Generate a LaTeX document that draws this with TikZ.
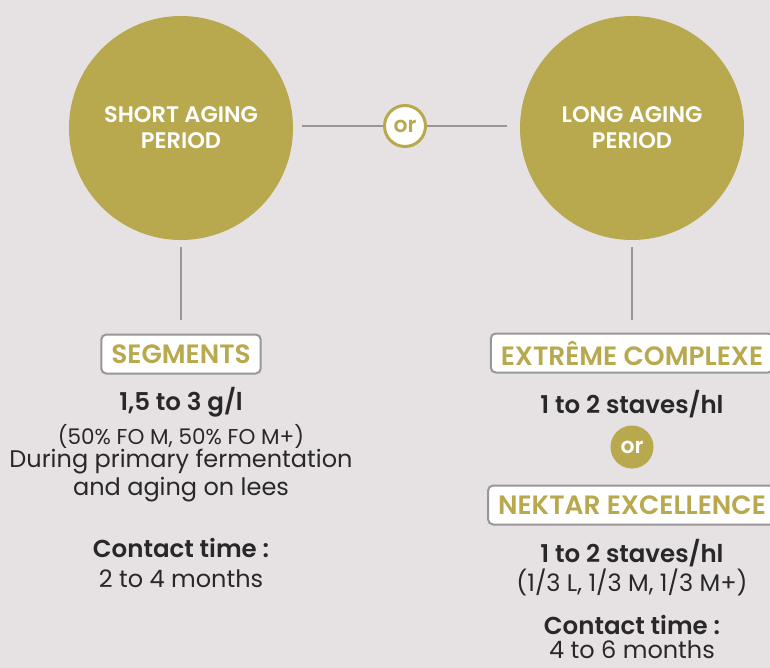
\documentclass[tikz,border=0pt]{standalone}
\usepackage{fontspec}
\setmainfont{Poppins}[BoldFont={Poppins SemiBold}]
\definecolor{bg}{HTML}{E6E2E3}
\definecolor{gold}{HTML}{B8A94E}
\definecolor{lgray}{HTML}{9A9597}
\definecolor{txt}{HTML}{2A2728}
\tikzset{
  bigcirc/.style={circle, fill=gold, minimum size=224pt, inner sep=0pt, text=white, font=\fontsize{22.5}{26}\selectfont\bfseries, align=center},
  orwhite/.style={circle, fill=white, draw=gold, line width=3pt, minimum size=41pt, inner sep=0pt, text=gold, font=\fontsize{22}{24}\selectfont\bfseries},
  orgold/.style={circle, fill=gold, minimum size=43pt, inner sep=0pt, text=white, font=\fontsize{22}{24}\selectfont\bfseries},
  conn/.style={draw=lgray, line width=2pt},
  prodbox/.style={draw=lgray, line width=2pt, fill=white, rounded corners=5pt, text=gold, font=\fontsize{26.5}{28}\selectfont\bfseries, minimum height=39pt, inner xsep=10pt, inner ysep=0pt},
  boldtxt/.style={text=txt, font=\fontsize{24.5}{28}\selectfont\bfseries, inner sep=0pt},
  normtxt/.style={text=txt, font=\fontsize{24}{28}\selectfont, inner sep=0pt},
  smalltxt/.style={text=txt, font=\fontsize{21.5}{28}\selectfont, inner sep=0pt},
}
\begin{document}
\begin{tikzpicture}[x=1pt,y=-1pt]
\fill[bg] (0,0) rectangle (770,668);
\useasboundingbox (0,0) rectangle (770,668);
\node[bigcirc] (short) at (181,128) {SHORT AGING\\PERIOD};
\node[bigcirc] (long) at (632,128) {LONG AGING\\PERIOD};
\node[orwhite] (or1) at (405,126) {or};
\coordinate (h1) at (302,126);
\coordinate (h2) at (507,126);
\draw[conn] (h1) -- (or1);
\draw[conn] (or1) -- (h2);
\coordinate (v1a) at (181,247);
\coordinate (v1b) at (181,320);
\coordinate (v2a) at (632,247);
\coordinate (v2b) at (632,320);
\draw[conn] (v1a) -- (v1b);
\draw[conn] (v2a) -- (v2b);
\node[prodbox] (seg) at (181,354) {SEGMENTS};
\node[prodbox] (ext) at (632,353) {EXTRÊME COMPLEXE};
\node[prodbox] (nek) at (632,505) {NEKTAR EXCELLENCE};
\node[orgold] (or2) at (632,447) {or};
% left texts
\node[boldtxt] (l1) at (181,402) {1,5 to 3 g/l};
\node[smalltxt] (l2) at (181,436) {(50\% FO M, 50\% FO M+)};
\node[normtxt] (l3) at (181,462) {During primary fermentation};
\node[normtxt] (l4) at (181,490) {and aging on lees};
\node[boldtxt] (l5) at (181,548) {Contact time :};
\node[normtxt] (l6) at (181,579) {2 to 4 months};
% right texts
\node[boldtxt] (r1) at (632,404) {1 to 2 staves/hl};
\node[boldtxt] (r2) at (632,553) {1 to 2 staves/hl};
\node[normtxt] (r3) at (632,582) {(1/3 L, 1/3 M, 1/3 M+)};
\node[boldtxt] (r4) at (632,625) {Contact time :};
\node[normtxt] (r5) at (632,650) {4 to 6 months};
\end{tikzpicture}
\end{document}
